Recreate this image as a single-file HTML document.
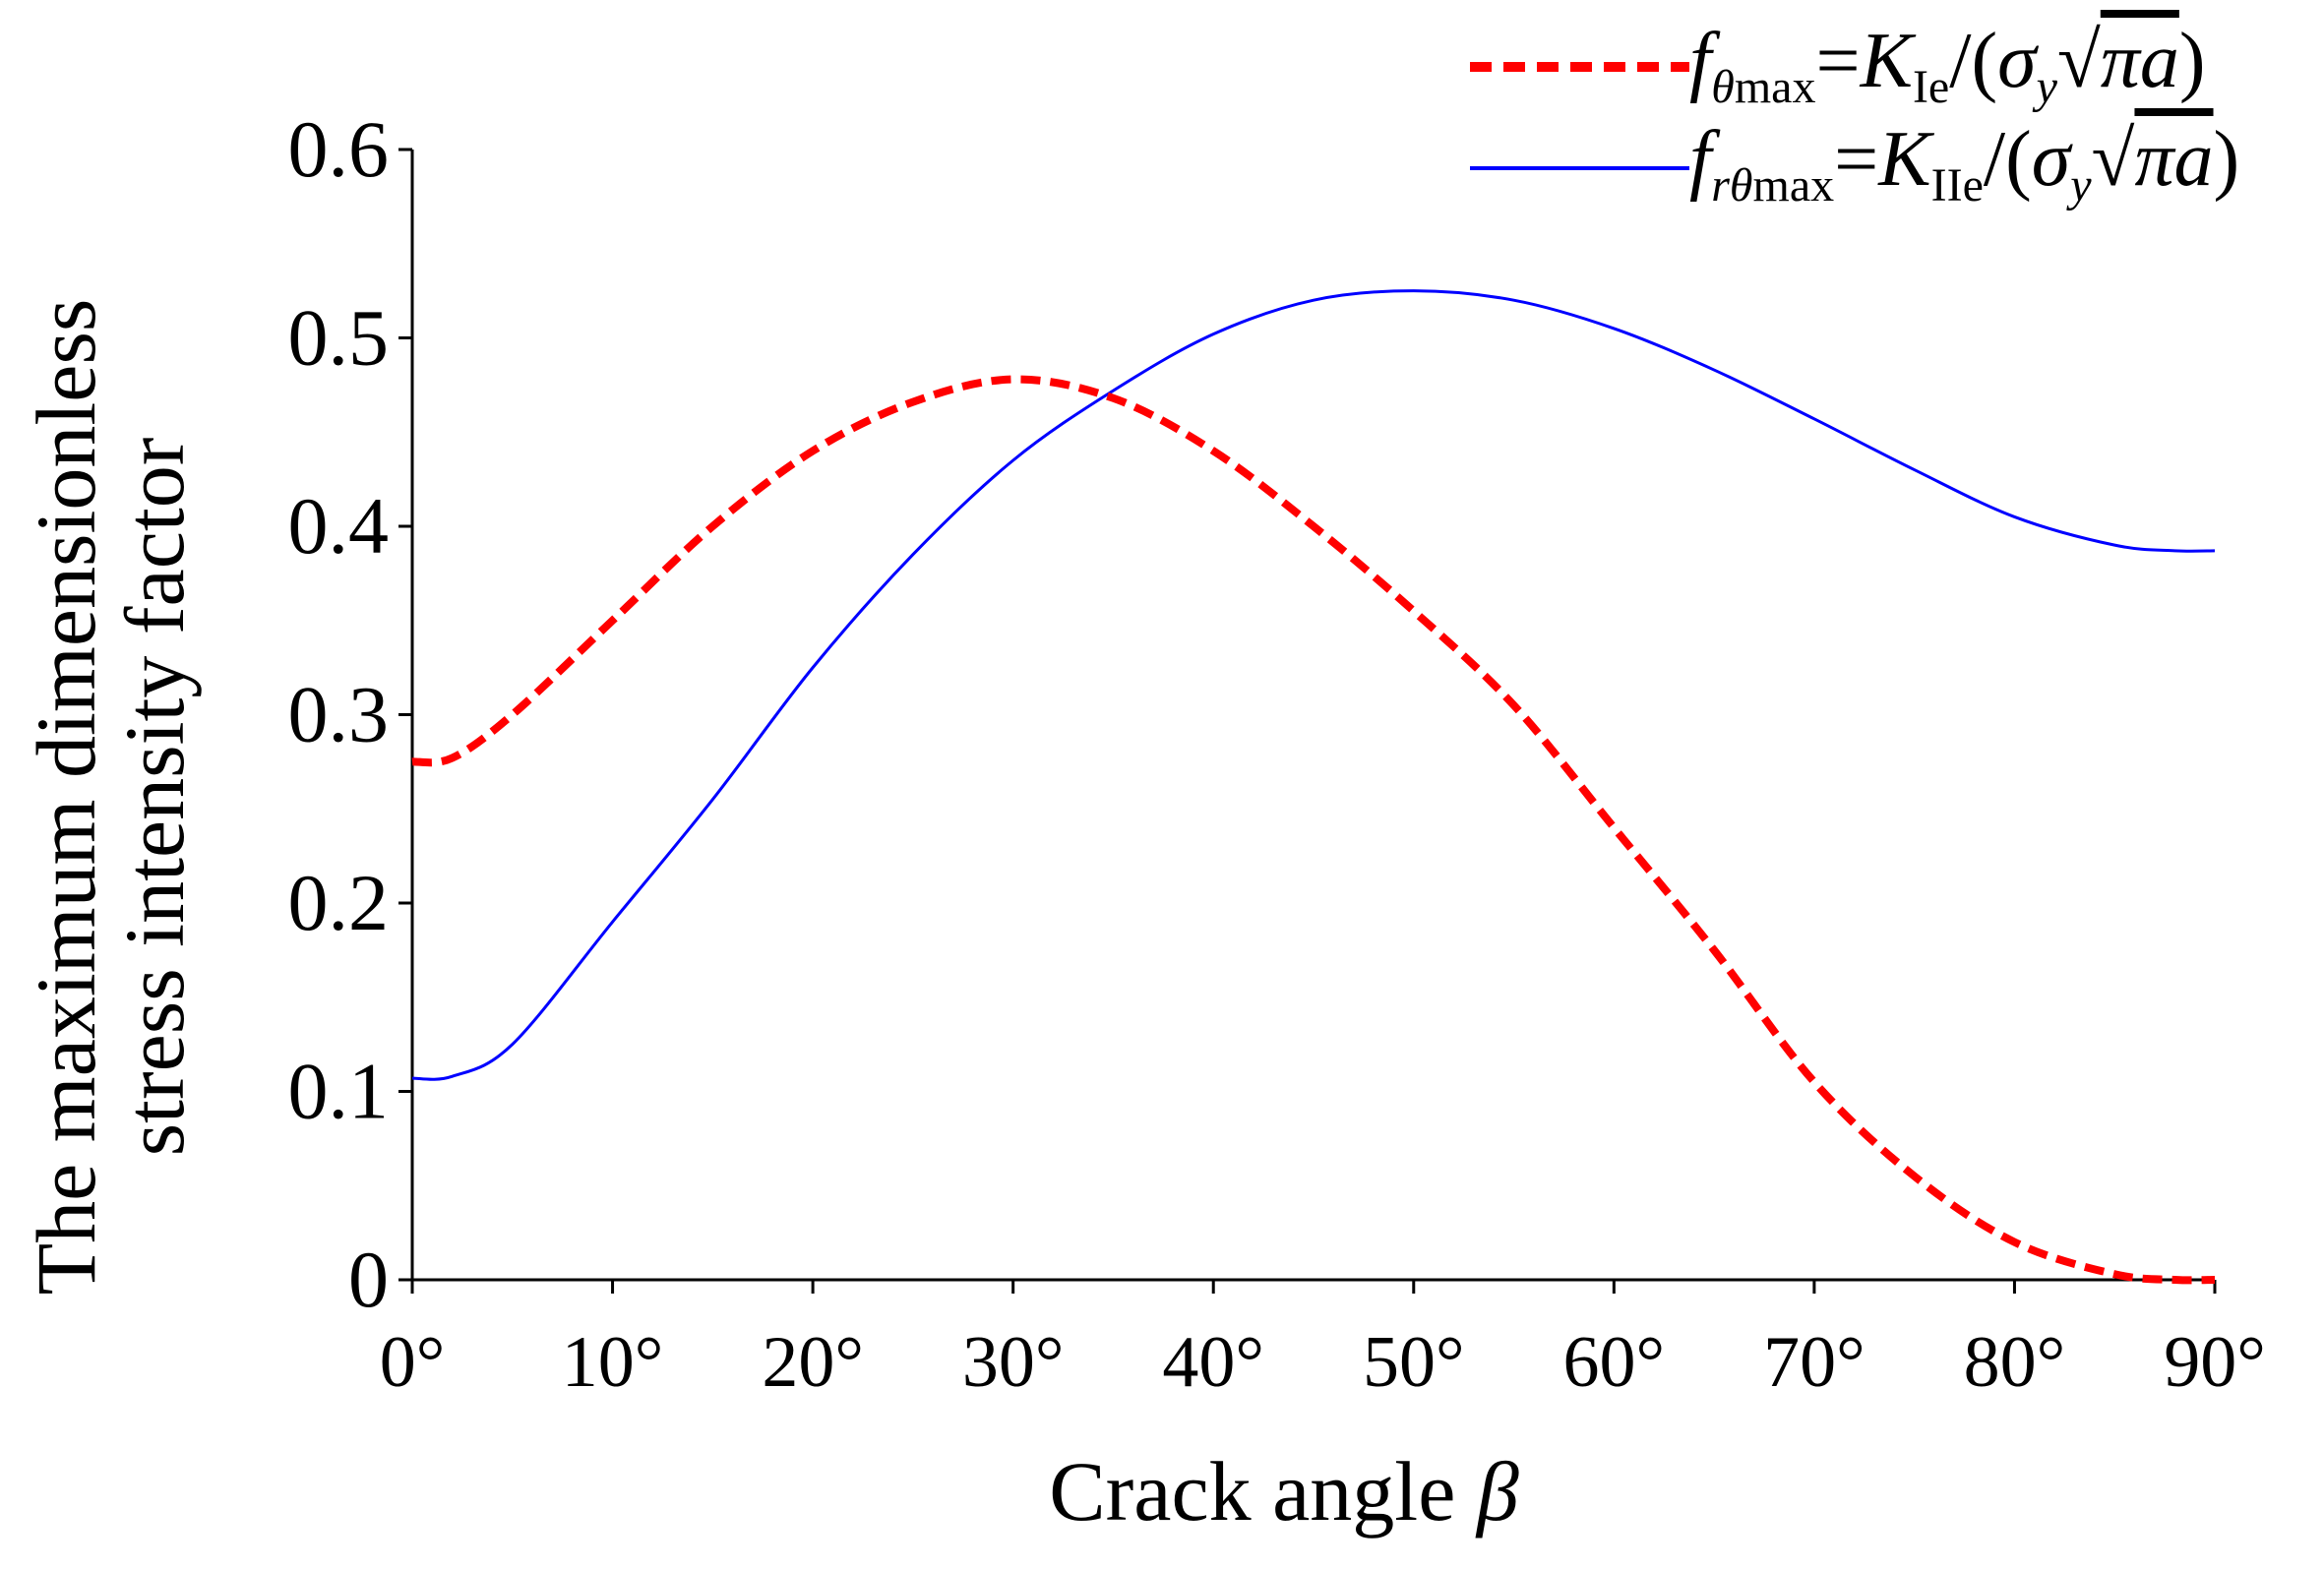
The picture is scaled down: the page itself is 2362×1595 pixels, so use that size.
<!DOCTYPE html>
<html><head><meta charset="utf-8"><style>
html,body{margin:0;padding:0;background:#fff;}
body{width:2362px;height:1595px;position:relative;overflow:hidden;font-family:"Liberation Serif",serif;}
.leg{position:absolute;font-family:"Liberation Serif",serif;font-size:80px;line-height:80px;white-space:nowrap;color:#000;}
.leg i{font-style:italic;}
.sub{font-size:48px;vertical-align:-16px;}
.ov{text-decoration:overline;}
</style></head><body>
<svg id="chart" width="2362" height="1595" style="position:absolute;left:0;top:0" font-family="Liberation Serif, serif"></svg>
<div class="leg" style="left:1717px;top:22px"><i>f</i><span class="sub"><i>θ</i>max</span>=<i>K</i><span class="sub">Ie</span>/(<i>σ</i><span class="sub"><i>y</i></span>√<span class="ov"><i>πa</i></span>)</div>
<div class="leg" style="left:1717px;top:122px"><i>f</i><span class="sub"><i>rθ</i>max</span>=<i>K</i><span class="sub">IIe</span>/(<i>σ</i><span class="sub"><i>y</i></span>√<span class="ov"><i>πa</i></span>)</div>
<script>
const angles=[0,2,5,10,15,20,25,30,35,40,45,50,55,60,65,70,75,80,85,88,90];
const thetaVals=[0.275,0.277,0.30,0.35,0.40,0.44,0.466,0.478,0.468,0.44,0.40,0.355,0.305,0.24,0.175,0.105,0.055,0.02,0.003,0,0];
const rthetaVals=[0.107,0.108,0.125,0.19,0.255,0.325,0.385,0.435,0.472,0.502,0.52,0.525,0.52,0.505,0.483,0.457,0.43,0.405,0.39,0.387,0.387];
const xTicks=[0,10,20,30,40,50,60,70,80,90];
const yTicks=[0,0.1,0.2,0.3,0.4,0.5,0.6];
const yTickLabels=["0","0.1","0.2","0.3","0.4","0.5","0.6"];
const X0=419,X1=2251,Y0=1301,Y1=152;
const sx=v=>X0+(v/90)*(X1-X0);
const sy=v=>Y0-(v/0.6)*(Y0-Y1);
const svg=document.getElementById('chart');
const NS='http://www.w3.org/2000/svg';
function mk(t,a,p){const e=document.createElementNS(NS,t);for(const k in a)e.setAttribute(k,a[k]);(p||svg).appendChild(e);return e;}
let e;
e=mk('line',{x1:X0,y1:Y0,x2:X1,y2:Y0,stroke:'#000','stroke-width':3});


e=mk('line',{x1:X0,y1:Y0,x2:X0,y2:Y1,stroke:'#000','stroke-width':3});


xTicks.forEach(t=>{
 e=mk('line',{x1:sx(t),y1:Y0,x2:sx(t),y2:Y0+14,stroke:'#000','stroke-width':3});
 
 
 e=mk('text',{x:sx(t),y:Y0+108,'font-size':74,'text-anchor':'middle'});e.textContent=t+'°';
 
 
});
yTicks.forEach((t,i)=>{
 e=mk('line',{x1:X0-14,y1:sy(t),x2:X0,y2:sy(t),stroke:'#000','stroke-width':3});
 
 
 e=mk('text',{x:X0-24,y:sy(t)+27,'font-size':82,'text-anchor':'end'});e.textContent=yTickLabels[i];
 
 
});
e=mk('text',{x:(X0+X1)/2-30,y:1545,'font-size':86,'text-anchor':'middle'});
e.innerHTML='Crack angle <tspan font-style="italic">β</tspan>';


e=mk('text',{x:0,y:0,'font-size':86,'text-anchor':'middle',transform:'translate(96,810) rotate(-90)'});e.textContent='The maximum dimensionless';


e=mk('text',{x:0,y:0,'font-size':86,'text-anchor':'middle',transform:'translate(186,810) rotate(-90)'});e.textContent='stress intensity factor';


function path(vals){
 const p=angles.map((a,i)=>[sx(a),sy(vals[i])]);
 let d='M'+p[0][0]+','+p[0][1];
 for(let i=0;i<p.length-1;i++){
  const a=p[Math.max(0,i-1)],b=p[i],c=p[i+1],n=p[Math.min(p.length-1,i+2)];
  const c1=[b[0]+(c[0]-a[0])/6,b[1]+(c[1]-a[1])/6],c2=[c[0]-(n[0]-b[0])/6,c[1]-(n[1]-b[1])/6];
  d+=' C'+c1+' '+c2+' '+c;
 }
 return d;
}
e=mk('path',{d:path(rthetaVals),fill:'none',stroke:'#0000ff','stroke-width':3});


e=mk('path',{d:path(thetaVals),fill:'none',stroke:'#ff0000','stroke-width':8,'stroke-dasharray':'20 10'});


e=mk('line',{x1:1494,y1:68,x2:1717,y2:68,stroke:'#ff0000','stroke-width':10,'stroke-dasharray':'22 12'});


e=mk('line',{x1:1494,y1:171,x2:1717,y2:171,stroke:'#0000ff','stroke-width':4});


</script>
</body></html>
